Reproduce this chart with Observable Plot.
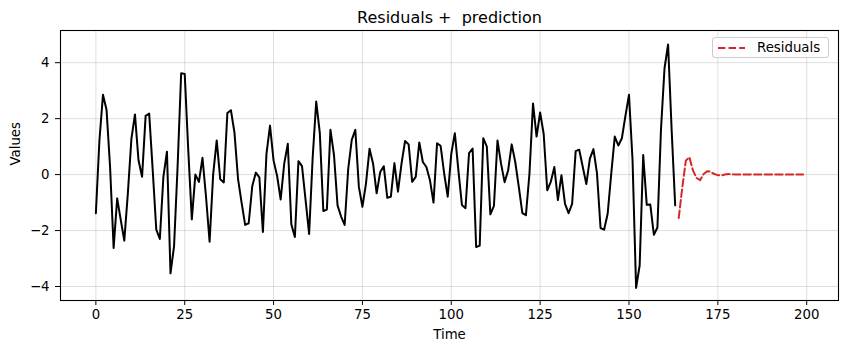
<!DOCTYPE html>
<html><head><meta charset="utf-8">
<script src="https://cdn.jsdelivr.net/npm/d3@7"></script>
<script src="https://cdn.jsdelivr.net/npm/@observablehq/plot@0.6"></script>
<style>
html,body{margin:0;padding:0;background:#fff;}
#chart{position:relative;width:844px;height:353px;font-family:"DejaVu Sans",sans-serif;}
#legend{position:absolute;left:712px;top:37px;width:115px;height:19px;border:1px solid #cccccc;border-radius:3px;background:rgba(255,255,255,0.8);font-size:13.3px;display:flex;align-items:center;}
#legend span{margin-left:0px;}
</style></head><body>
<div id="chart"></div>
<script>
const titleText = "Residuals +\u00a0 prediction";
const xLabel = "Time";
const yLabel = "Values";
const seriesName = "Residuals";

const observedStart = 0;
const observed = [
  -1.38, 1.22, 2.85, 2.32, 0.27, -2.62, -0.85, -1.62, -2.36, -0.67,
  1.28, 2.15, 0.51, -0.08, 2.1, 2.18, 0.15, -1.97, -2.3, -0.08,
  0.82, -3.53, -2.56, 0.3, 3.62, 3.6, 0.86, -1.6, 0.0, -0.26,
  0.6, -0.8, -2.4, 0.0, 1.22, -0.17, -0.28, 2.2, 2.3, 1.5,
  -0.15, -1.0, -1.8, -1.74, -0.42, 0.07, -0.1, -2.05, 0.74, 1.75,
  0.5, -0.05, -0.89, 0.39, 1.1, -1.78, -2.23, 0.48, 0.3, -0.9,
  -2.12, 0.6, 2.61, 1.5, -1.3, -1.25, 1.6, 0.7, -1.1, -1.5,
  -1.8, 0.2, 1.24, 1.6, -0.44, -1.15, -0.32, 0.92, 0.39, -0.67,
  0.09, 0.3, -0.83, -0.79, 0.41, -0.61, 0.39, 1.2, 1.08, -0.26,
  -0.08, 1.15, 0.45, 0.27, -0.2, -1.0, 1.12, 1.03, 0.04, -0.79,
  0.74, 1.48, 0.15, -1.09, -1.2, 0.77, 0.93, -2.59, -2.54, 1.3,
  1.0, -1.42, -1.12, 1.22, 0.39, -0.27, 0.15, 1.08, 0.45, -0.44,
  -1.38, -1.45, 0.04, 2.54, 1.36, 2.22, 1.45, -0.56, -0.26, 0.27,
  -0.91, -0.02, -1.05, -1.38, -1.05, 0.84, 0.89, 0.27, -0.34, 0.57,
  0.91, 0.04, -1.91, -1.97, -1.4, 0.02, 1.36, 1.04, 1.3, 2.1,
  2.85, 0.52, -4.05, -3.25, 0.7, -1.08, -1.07, -2.15, -1.89, 1.6,
  3.8, 4.65, 1.6, -1.1
];

const forecastStart = 164;
const forecast = [
  -1.55, -0.45, 0.5, 0.62, 0.15, -0.12, -0.2, 0.02, 0.12, 0.1,
  0.02, -0.02, -0.03, 0.0, 0.02, 0.01, 0.0, 0.0, 0.0, 0.0,
  0.0, 0.0, 0.0, 0.0, 0.0, 0.0, 0.0, 0.0, 0.0, 0.0,
  0.0, 0.0, 0.0, 0.0, 0.0, 0.0
];

const xTicks = [0, 25, 50, 75, 100, 125, 150, 175, 200];
const yTicks = [-4, -2, 0, 2, 4];

const obsData = observed.map((v, i) => ({t: observedStart + i, v}));
const fcData = forecast.map((v, i) => ({t: forecastStart + i, v}));

const gridStyle = {stroke: "#b0b0b0", strokeOpacity: 0.4, strokeWidth: 1};

const plot = Plot.plot({
  width: 844, height: 353,
  marginLeft: 60, marginRight: 6, marginTop: 30, marginBottom: 53,
  style: {fontFamily: "DejaVu Sans", fontSize: "13.3px", background: "white", color: "black", overflow: "visible"},
  x: {domain: [-9.95, 208.95]},
  y: {domain: [-4.5, 5.15]},
  marks: [
    Plot.gridX(xTicks, gridStyle),
    Plot.gridY(yTicks, gridStyle),
    Plot.line(obsData, {x: "t", y: "v", stroke: "black", strokeWidth: 2}),
    Plot.line(fcData, {x: "t", y: "v", stroke: "#d62728", strokeWidth: 2, strokeDasharray: "7.4,3.2"}),
    Plot.frame({stroke: "black", strokeWidth: 1.1}),
    Plot.axisX(xTicks, {tickSize: 5, tickPadding: 4, label: null}),
    Plot.axisY(yTicks, {tickSize: 5, tickPadding: 6, label: null}),
    Plot.text([titleText], {text: d => d, frameAnchor: "top", lineAnchor: "middle", dy: -13, fontSize: 16}),
    Plot.text([xLabel], {text: d => d, frameAnchor: "bottom", lineAnchor: "middle", dy: 34}),
    Plot.text([yLabel], {text: d => d, frameAnchor: "left", lineAnchor: "middle", dx: -45, rotate: -90})
  ]
});
const chart = document.getElementById("chart");
chart.appendChild(plot);

const legend = document.createElement("div");
legend.id = "legend";
legend.innerHTML = `<svg width="44" height="19"><line x1="5" x2="32" y1="10" y2="10" stroke="#d62728" stroke-width="2" stroke-dasharray="7.4,3.2"/></svg><span></span>`;
legend.querySelector("span").textContent = seriesName;
chart.appendChild(legend);
</script>
</body></html>
